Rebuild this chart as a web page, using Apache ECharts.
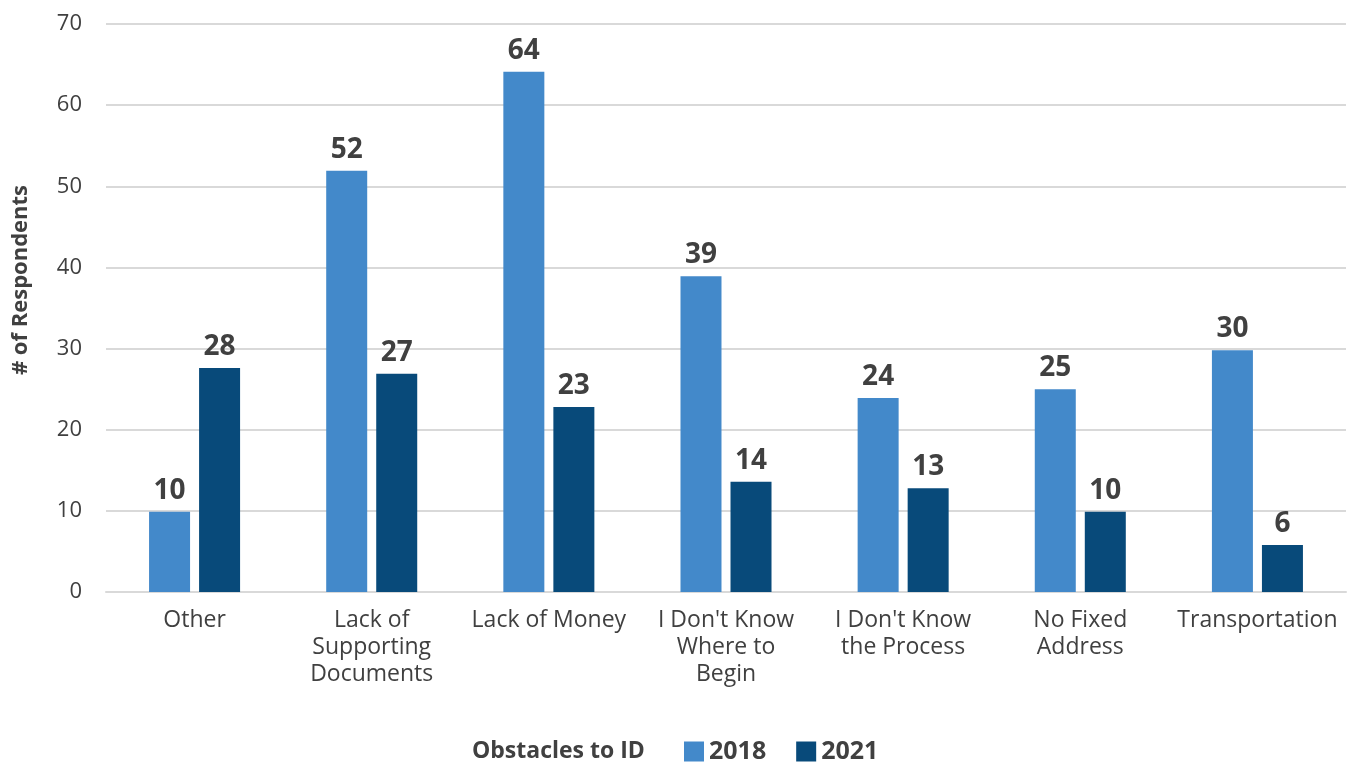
<!DOCTYPE html>
<html><head><meta charset="utf-8">
<script src="https://cdn.jsdelivr.net/npm/echarts@6/dist/echarts.min.js"></script>
<style>html,body{margin:0;padding:0;background:#fff}#c{width:1348px;height:764px}</style>
</head><body><div id="c"></div>
<script>
const categories = ["Other", "Lack of\nSupporting\nDocuments", "Lack of Money", "I Don't Know\nWhere to\nBegin", "I Don't Know\nthe Process", "No Fixed\nAddress", "Transportation"];
const values2018 = [9.9, 51.9, 64.1, 38.9, 23.9, 25.0, 29.8];
const values2021 = [27.6, 26.9, 22.8, 13.6, 12.8, 9.9, 5.8];
const seriesNames = ["2018", "2021"];
const yTicks = {min: 0, max: 70, interval: 10};

const font = "'Open Sans', 'Noto Sans', sans-serif";
const chart = echarts.init(document.getElementById('c'));
const lbl = {show: true, position: 'top', distance: 7, formatter: p => Math.round(p.value), fontFamily: font, fontWeight: 'bold', fontSize: 28, color: '#404040'};
chart.setOption({
  animation: false,
  title: {text: 'Obstacles to ID', left: 472, top: 740, padding: 0, textStyle: {fontFamily: font, fontWeight: 'bold', fontSize: 23, color: '#404040'}},
  legend: {data: seriesNames, left: 684, top: 739, padding: 0, itemWidth: 20, itemHeight: 20, itemGap: 30, textStyle: {fontFamily: font, fontWeight: 'bold', fontSize: 25, lineHeight: 25, color: '#404040'}, icon: 'rect'},
  graphic: [{type: 'text', x: 21, y: 280, rotation: Math.PI / 2, style: {text: '# of Respondents', align: 'center', verticalAlign: 'middle', fontFamily: font, fontWeight: 'bold', fontSize: 22, fill: '#404040'}}],
  grid: {left: 106, right: 2, top: 24, bottom: 172},
  xAxis: {type: 'category', data: categories, axisTick: {show: false},
    axisLine: {lineStyle: {color: '#d9d9d9', width: 2}},
    axisLabel: {interval: 0, margin: 15, fontFamily: font, fontSize: 23, color: '#404040', lineHeight: 27}},
  yAxis: {type: 'value', min: yTicks.min, max: yTicks.max, interval: yTicks.interval,
    axisLabel: {margin: 24, fontFamily: font, fontSize: 22, color: '#404040'},
    splitLine: {lineStyle: {color: '#d9d9d9', width: 2}}},
  series: [
    {name: seriesNames[0], type: 'bar', data: values2018, barWidth: 41, barGap: '22%', itemStyle: {color: '#4389ca'}, label: lbl},
    {name: seriesNames[1], type: 'bar', data: values2021, barWidth: 41, itemStyle: {color: '#084a7a'}, label: lbl}
  ]
});
</script></body></html>
